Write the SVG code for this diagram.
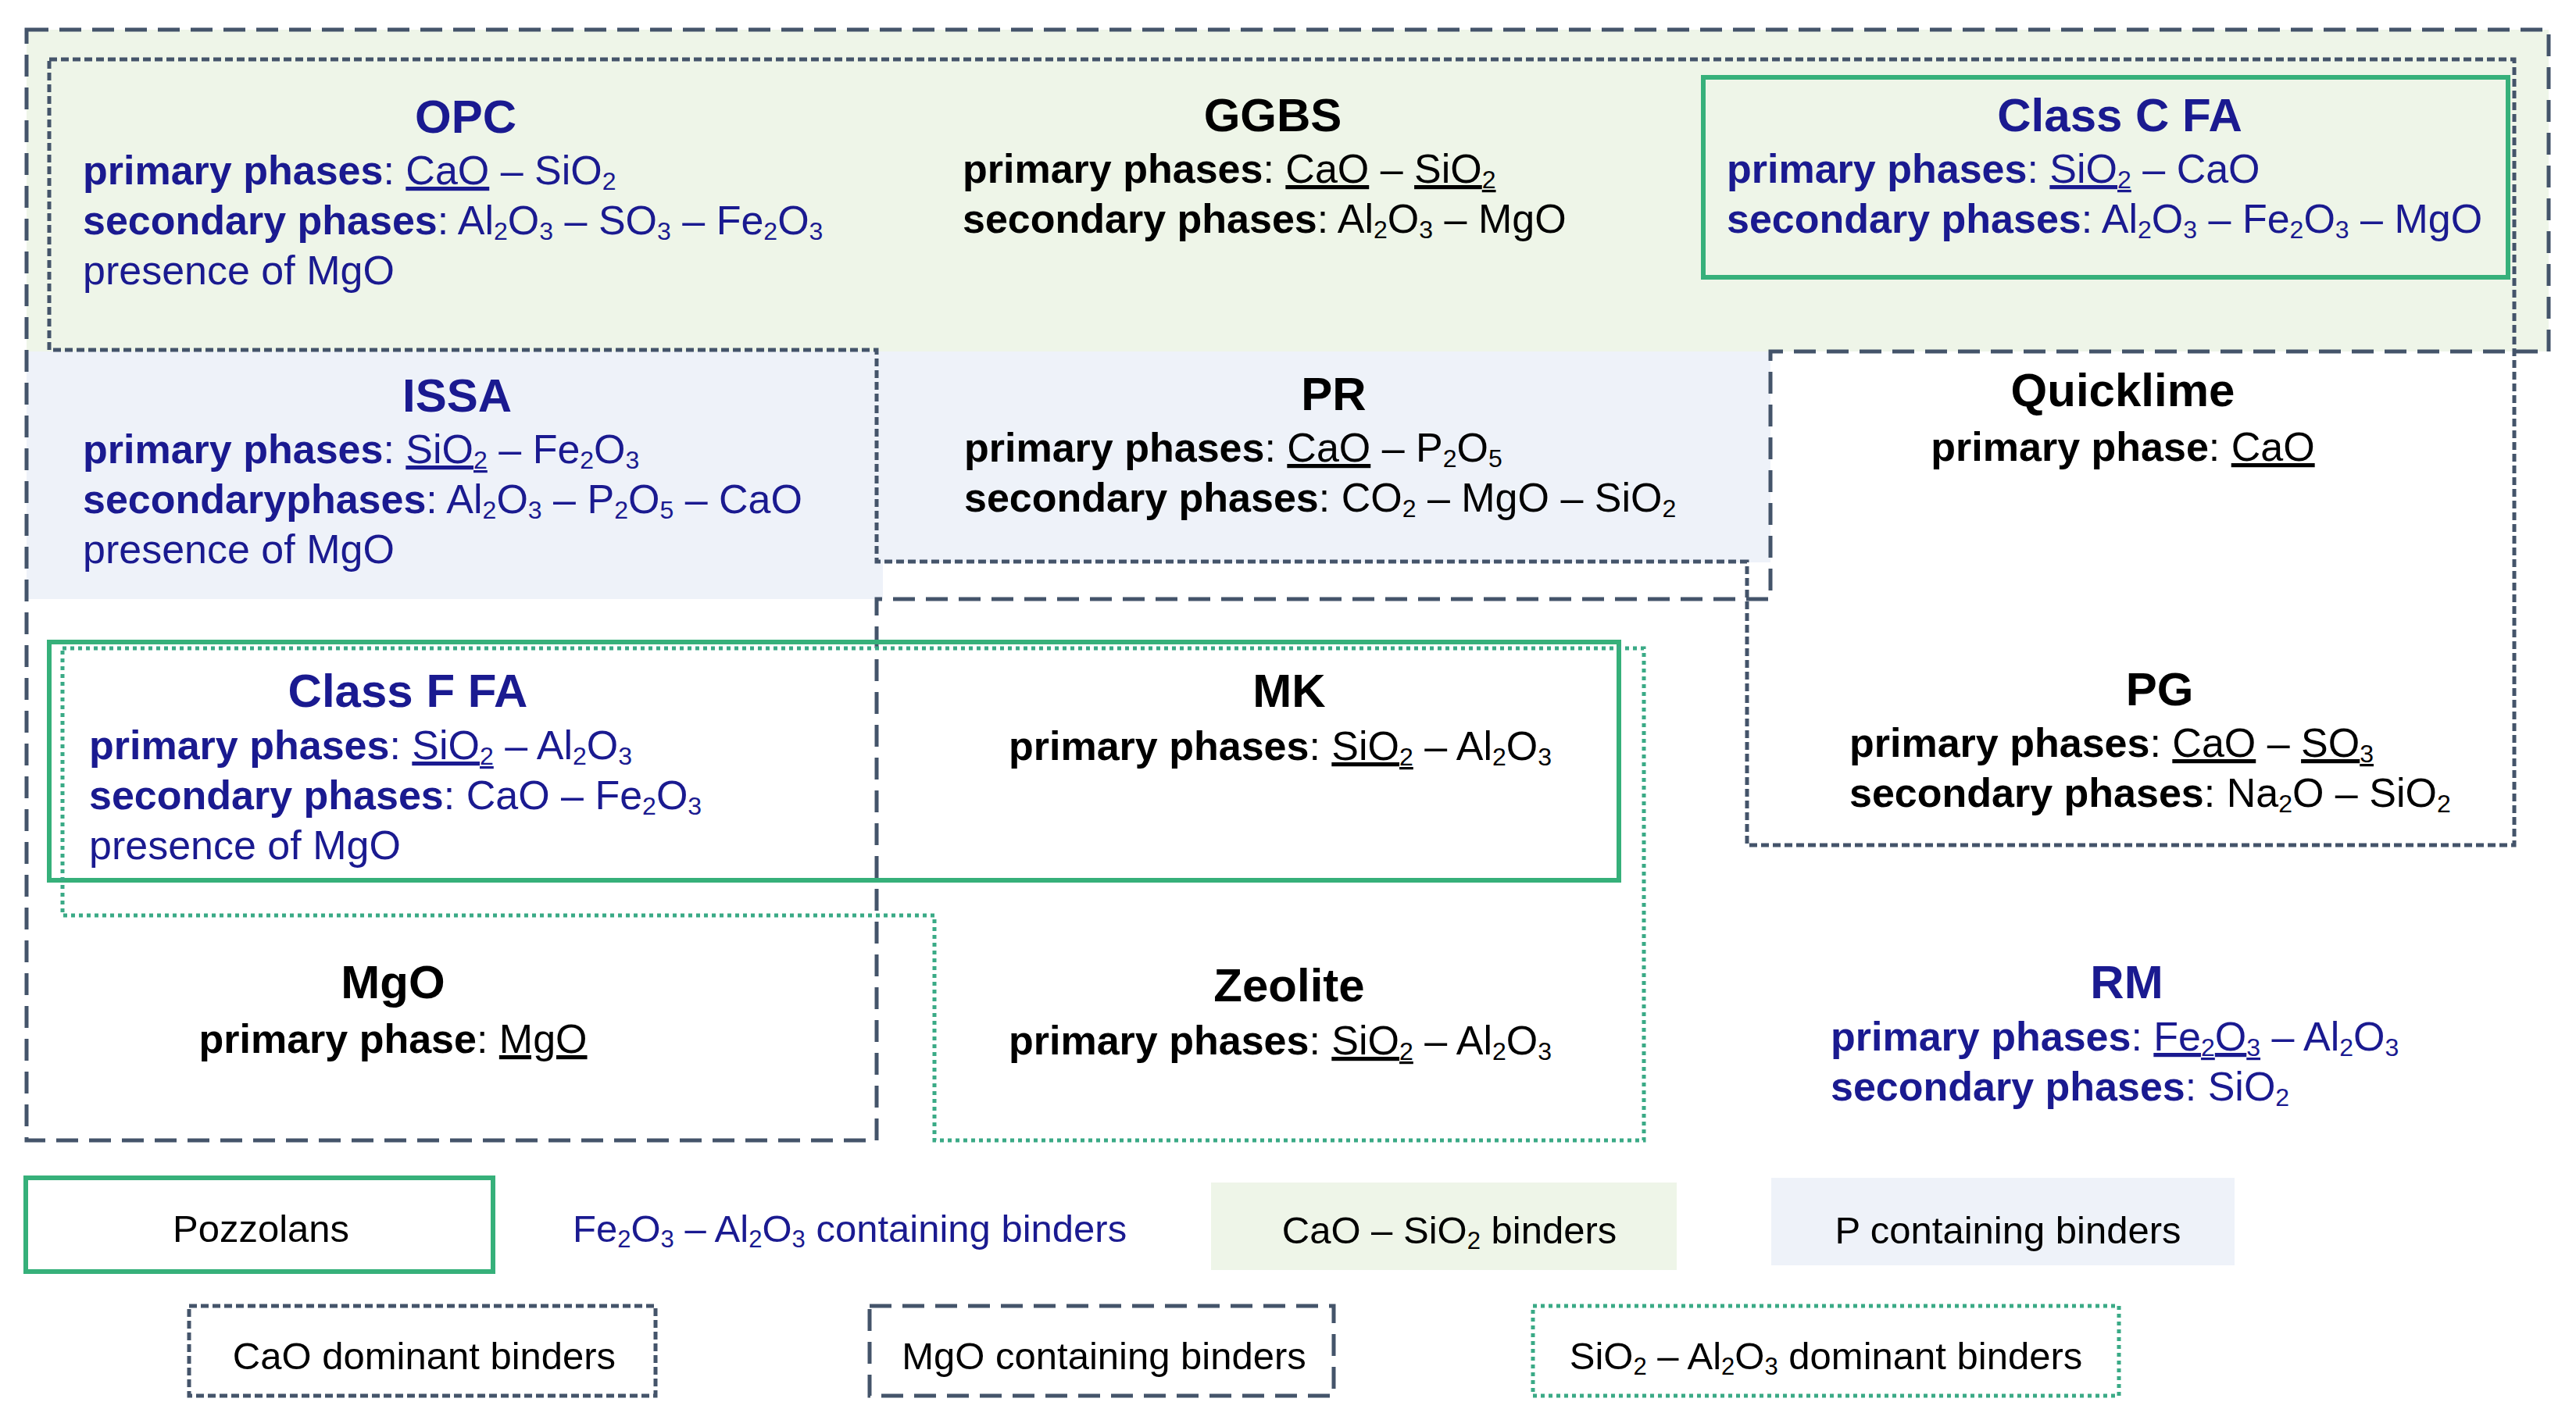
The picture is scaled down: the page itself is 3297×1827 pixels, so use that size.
<svg xmlns="http://www.w3.org/2000/svg" width="3297" height="1827" viewBox="0 0 3297 1827">
<style>
text{font-family:"Liberation Sans",Arial,sans-serif;font-size:52px;fill:#000}
.t{font-size:60px;font-weight:bold;text-anchor:middle}
.b{font-weight:bold}
.n,.n tspan{fill:#1a1a90}
.sub{baseline-shift:-7px;font-size:32px}
.u{text-decoration:underline}
.c{text-anchor:middle}
.lg{font-size:49px}
.lg .sub{font-size:31px}
.ld{fill:none;stroke:#44546a;stroke-width:5;stroke-dasharray:28 14}
.sd{fill:none;stroke:#44546a;stroke-width:5;stroke-dasharray:10 5}
.pz{fill:none;stroke:#36b07a;stroke-width:6}
.dt{fill:none;stroke:#3aaa86;stroke-width:5;stroke-dasharray:5 5}
</style>
<rect width="3297" height="1827" fill="#fff"/>
<g id="fills">
<rect x="34" y="38" width="3228" height="412" fill="#eef5e8"/>
<rect x="34" y="450" width="2232" height="317" fill="#eef2f9"/>
<rect x="1130" y="720" width="1136" height="47" fill="#fff"/>
<rect x="2266" y="450" width="996" height="317" fill="#fff"/>
</g>
<g id="connectors">
<polygon class="ld" points="34,38 3262,38 3262,450 2266,450 2266,767 1122,767 1122,1460 34,1460"/>
<polygon class="sd" points="63,76 3218,76 3218,1082 2236,1082 2236,719 1122,719 1122,448 63,448"/>
<rect class="pz" x="2180" y="99" width="1030" height="256"/>
<rect class="pz" x="63" y="822" width="2009" height="305"/>
<polygon class="dt" points="80,830 2104,830 2104,1460 1196,1460 1196,1172 80,1172"/>
</g>
<g id="OPC">
<text class="t n" x="596" y="170">OPC</text>
<text class="n" x="106" y="236"><tspan class="b">primary phases</tspan>: <tspan class="u">CaO</tspan> – SiO<tspan class="sub">2</tspan></text>
<text class="n" x="106" y="300"><tspan class="b">secondary phases</tspan>: Al<tspan class="sub">2</tspan>O<tspan class="sub">3</tspan> – SO<tspan class="sub">3</tspan> – Fe<tspan class="sub">2</tspan>O<tspan class="sub">3</tspan></text>
<text class="n" x="106" y="364">presence of MgO</text>
</g>
<g id="GGBS">
<text class="t" x="1629" y="168">GGBS</text>
<text x="1232" y="234"><tspan class="b">primary phases</tspan>: <tspan class="u">CaO</tspan> – <tspan class="u">SiO<tspan class="sub">2</tspan></tspan></text>
<text x="1232" y="298"><tspan class="b">secondary phases</tspan>: Al<tspan class="sub">2</tspan>O<tspan class="sub">3</tspan> – MgO</text>
</g>
<g id="ClassCFA">
<text class="t n" x="2713" y="168">Class C FA</text>
<text class="n" x="2210" y="234"><tspan class="b">primary phases</tspan>: <tspan class="u">SiO<tspan class="sub">2</tspan></tspan> – CaO</text>
<text class="n" x="2210" y="298"><tspan class="b">secondary phases</tspan>: Al<tspan class="sub">2</tspan>O<tspan class="sub">3</tspan> – Fe<tspan class="sub">2</tspan>O<tspan class="sub">3</tspan> – MgO</text>
</g>
<g id="ISSA">
<text class="t n" x="585" y="527">ISSA</text>
<text class="n" x="106" y="593"><tspan class="b">primary phases</tspan>: <tspan class="u">SiO<tspan class="sub">2</tspan></tspan> – Fe<tspan class="sub">2</tspan>O<tspan class="sub">3</tspan></text>
<text class="n" x="106" y="657"><tspan class="b">secondaryphases</tspan>: Al<tspan class="sub">2</tspan>O<tspan class="sub">3</tspan> – P<tspan class="sub">2</tspan>O<tspan class="sub">5</tspan> – CaO</text>
<text class="n" x="106" y="721">presence of MgO</text>
</g>
<g id="PR">
<text class="t" x="1707" y="525">PR</text>
<text x="1234" y="591"><tspan class="b">primary phases</tspan>: <tspan class="u">CaO</tspan> – P<tspan class="sub">2</tspan>O<tspan class="sub">5</tspan></text>
<text x="1234" y="655"><tspan class="b">secondary phases</tspan>: CO<tspan class="sub">2</tspan> – MgO – SiO<tspan class="sub">2</tspan></text>
</g>
<g id="Quicklime">
<text class="t" x="2717" y="520">Quicklime</text>
<text class="c" x="2717" y="590"><tspan class="b">primary phase</tspan>: <tspan class="u">CaO</tspan></text>
</g>
<g id="ClassFFA">
<text class="t n" x="522" y="905">Class F FA</text>
<text class="n" x="114" y="972"><tspan class="b">primary phases</tspan>: <tspan class="u">SiO<tspan class="sub">2</tspan></tspan> – Al<tspan class="sub">2</tspan>O<tspan class="sub">3</tspan></text>
<text class="n" x="114" y="1036"><tspan class="b">secondary phases</tspan>: CaO – Fe<tspan class="sub">2</tspan>O<tspan class="sub">3</tspan></text>
<text class="n" x="114" y="1100">presence of MgO</text>
</g>
<g id="MK">
<text class="t" x="1650" y="905">MK</text>
<text x="1291" y="973"><tspan class="b">primary phases</tspan>: <tspan class="u">SiO<tspan class="sub">2</tspan></tspan> – Al<tspan class="sub">2</tspan>O<tspan class="sub">3</tspan></text>
</g>
<g id="PG">
<text class="t" x="2764" y="903">PG</text>
<text x="2367" y="969"><tspan class="b">primary phases</tspan>: <tspan class="u">CaO</tspan> – <tspan class="u">SO<tspan class="sub">3</tspan></tspan></text>
<text x="2367" y="1033"><tspan class="b">secondary phases</tspan>: Na<tspan class="sub">2</tspan>O – SiO<tspan class="sub">2</tspan></text>
</g>
<g id="MgO">
<text class="t" x="503" y="1278">MgO</text>
<text class="c" x="503" y="1348"><tspan class="b">primary phase</tspan>: <tspan class="u">MgO</tspan></text>
</g>
<g id="Zeolite">
<text class="t" x="1650" y="1282">Zeolite</text>
<text x="1291" y="1350"><tspan class="b">primary phases</tspan>: <tspan class="u">SiO<tspan class="sub">2</tspan></tspan> – Al<tspan class="sub">2</tspan>O<tspan class="sub">3</tspan></text>
</g>
<g id="RM">
<text class="t n" x="2722" y="1278">RM</text>
<text class="n" x="2343" y="1345"><tspan class="b">primary phases</tspan>: <tspan class="u">Fe<tspan class="sub">2</tspan>O<tspan class="sub">3</tspan></tspan> – Al<tspan class="sub">2</tspan>O<tspan class="sub">3</tspan></text>
<text class="n" x="2343" y="1409"><tspan class="b">secondary phases</tspan>:  SiO<tspan class="sub">2</tspan></text>
</g>
<g id="legend">
<rect class="pz" x="33" y="1508" width="598" height="120"/>
<text class="lg c" x="334" y="1590">Pozzolans</text>
<text class="lg n" x="733" y="1590">Fe<tspan class="sub">2</tspan>O<tspan class="sub">3</tspan> – Al<tspan class="sub">2</tspan>O<tspan class="sub">3</tspan> containing binders</text>
<rect x="1550" y="1514" width="596" height="112" fill="#eef5e8"/>
<text class="lg c" x="1855" y="1592">CaO – SiO<tspan class="sub">2</tspan> binders</text>
<rect x="2267" y="1508" width="593" height="112" fill="#eef2f9"/>
<text class="lg c" x="2570" y="1592">P containing binders</text>
<rect class="sd" x="242" y="1672" width="597" height="115"/>
<text class="lg c" x="543" y="1753">CaO dominant binders</text>
<rect class="ld" x="1113" y="1672" width="594" height="115"/>
<text class="lg c" x="1413" y="1753">MgO containing binders</text>
<rect class="dt" x="1962" y="1672" width="750" height="115"/>
<text class="lg c" x="2337" y="1753">SiO<tspan class="sub">2</tspan> – Al<tspan class="sub">2</tspan>O<tspan class="sub">3</tspan> dominant binders</text>
</g>
</svg>
